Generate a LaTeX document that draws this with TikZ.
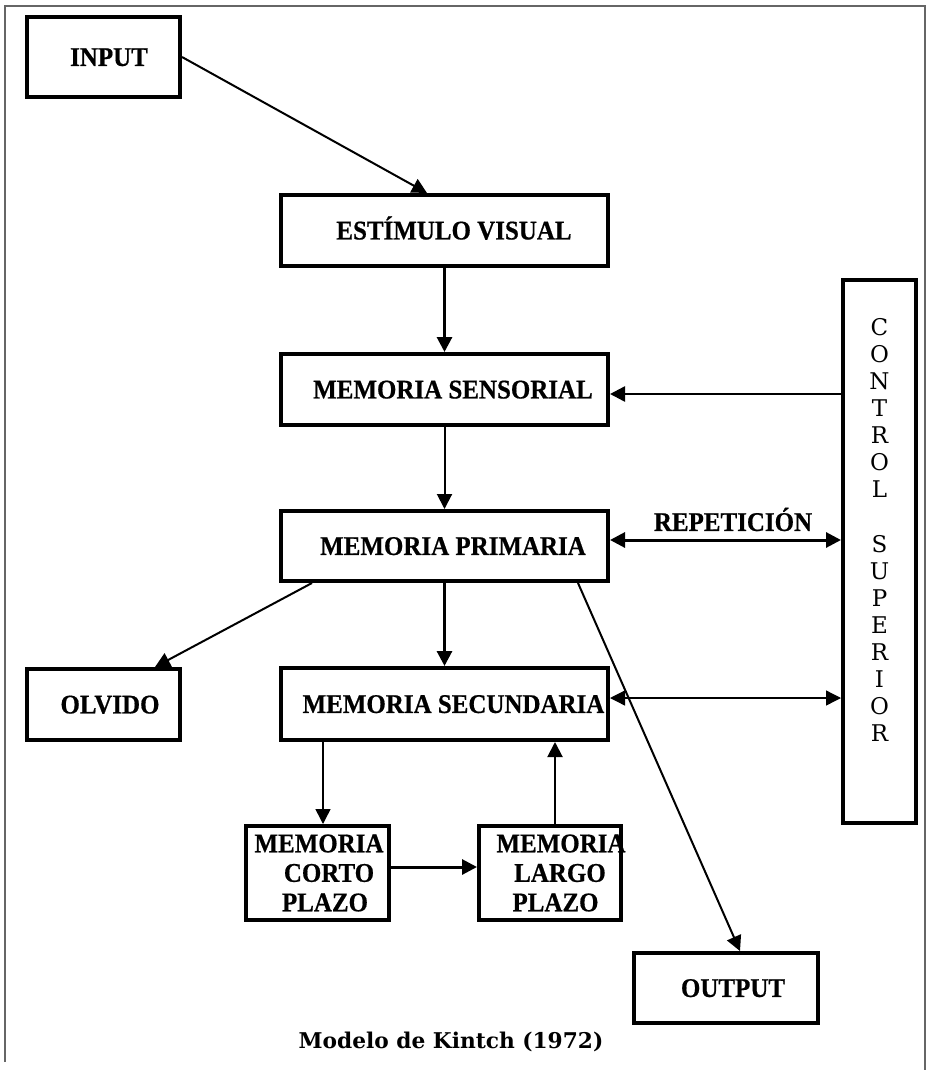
\documentclass[tikz,border=0pt]{standalone}
\usepackage{fontspec}
\setmainfont{Liberation Serif}
\newfontfamily\boxfont[FakeStretch=0.925,FakeBold=0.6]{Liberation Serif Bold}
\newfontfamily\dvserif{DejaVu Serif}
\usetikzlibrary{arrows.meta,calc}
\newcommand\shifted[2]{\makebox[0pt][c]{\hspace*{#1}#2}}
\begin{document}
\begin{tikzpicture}[x=1pt,y=-1pt,
  box/.style={draw, line width=4pt, inner sep=0pt, font=\boxfont\fontsize{27}{29.5}\selectfont},
  one/.style={text height=17.9pt, text depth=0pt},
  multi/.style={align=center},
  arr/.style={-{Triangle[length=15pt,width=15pt]}, line width=2pt},
  bi/.style={{Triangle[length=15pt,width=15pt]}-{Triangle[length=15pt,width=15pt]}},
  frame/.style={draw=black!60, line width=1.5pt}]
\useasboundingbox (0,0) rectangle (927,1070);
\draw[frame] (5,1062) -- (5,6) -- (925,6) -- (925,1070);

\node[box, one, minimum width=153pt, minimum height=80pt] (input) at (103.5,57) {\shifted{11pt}{INPUT}};
\node[box, one, minimum width=327pt, minimum height=71pt] (estimulo) at (444.5,230.5) {\shifted{19pt}{ESTÍMULO VISUAL}};
\node[box, one, minimum width=327pt, minimum height=71pt] (sensorial) at (444.5,389.5) {\shifted{17pt}{MEMORIA SENSORIAL}};
\node[box, one, minimum width=327pt, minimum height=70pt] (primaria) at (444.5,546) {\shifted{17pt}{MEMORIA PRIMARIA}};
\node[box, one, minimum width=327pt, minimum height=72pt] (secundaria) at (444.5,704) {\shifted{18pt}{MEMORIA SECUNDARIA}};
\node[box, one, minimum width=153pt, minimum height=71pt] (olvido) at (103.5,704.5) {\shifted{13pt}{OLVIDO}};
\node[box, multi, minimum width=143pt, minimum height=94pt] (corto) at (317.5,873)
  {\shifted{3pt}{MEMORIA}\\\shifted{23pt}{CORTO}\\\shifted{15pt}{PLAZO}};
\node[box, multi, minimum width=142pt, minimum height=94pt] (largo) at (550,873)
  {\shifted{22pt}{MEMORIA}\\\shifted{20pt}{LARGO}\\\shifted{11pt}{PLAZO}};
\node[box, one, minimum width=184pt, minimum height=70pt] (output) at (726,988) {\shifted{14pt}{OUTPUT}};
\node[box, minimum width=73pt, minimum height=543pt] (control) at (879.5,551.5) {};
\node[inner sep=0pt, align=center, font=\dvserif\fontsize{23}{27.07}\selectfont] (ctrltext) at (879.5,530)
  {C\\O\\N\\T\\R\\O\\L\\[27.07pt]S\\U\\P\\E\\R\\I\\O\\R};
\node[inner sep=0pt, one, font=\boxfont\fontsize{27}{29.5}\selectfont] (rep) at (733,522) {REPETICIÓN};
\node[inner sep=0pt, font=\dvserif\bfseries\fontsize{21.7}{24}\selectfont] (caption) at (451,1042) {Modelo de Kintch (1972)};

\draw[arr] (input.east) -- ([xshift=-17.5pt]estimulo.north);
\draw[arr, line width=3pt] (estimulo.south) -- (sensorial.north);
\draw[arr] (sensorial.south) -- (primaria.north);
\draw[arr, line width=3pt] (primaria.south) -- (secundaria.north);
\draw[arr] ([xshift=33pt]primaria.south west) -- ([xshift=51.5pt]olvido.north);
\draw[arr] ([xshift=-32pt]primaria.south east) -- ([xshift=14pt]output.north);
\draw[arr, line width=1.5pt] ([xshift=5.5pt]corto.north |- secundaria.south) -- ([xshift=5.5pt]corto.north);
\draw[arr] ([xshift=5pt]largo.north) -- ([xshift=5pt]largo.north |- secundaria.south);
\draw[arr, line width=3pt] ([yshift=6pt]corto.east) -- ([yshift=6pt]largo.west);
\draw[arr, line width=2.5pt] ([yshift=-4.5pt]sensorial.east -| control.west) -- ([yshift=-4.5pt]sensorial.east);
\draw[bi, line width=3pt] ([yshift=6pt]primaria.east) -- ([yshift=6pt]primaria.east -| control.west);
\draw[bi, line width=1.3pt] ([yshift=6pt]secundaria.east) -- ([yshift=6pt]secundaria.east -| control.west);
\end{tikzpicture}
\end{document}
